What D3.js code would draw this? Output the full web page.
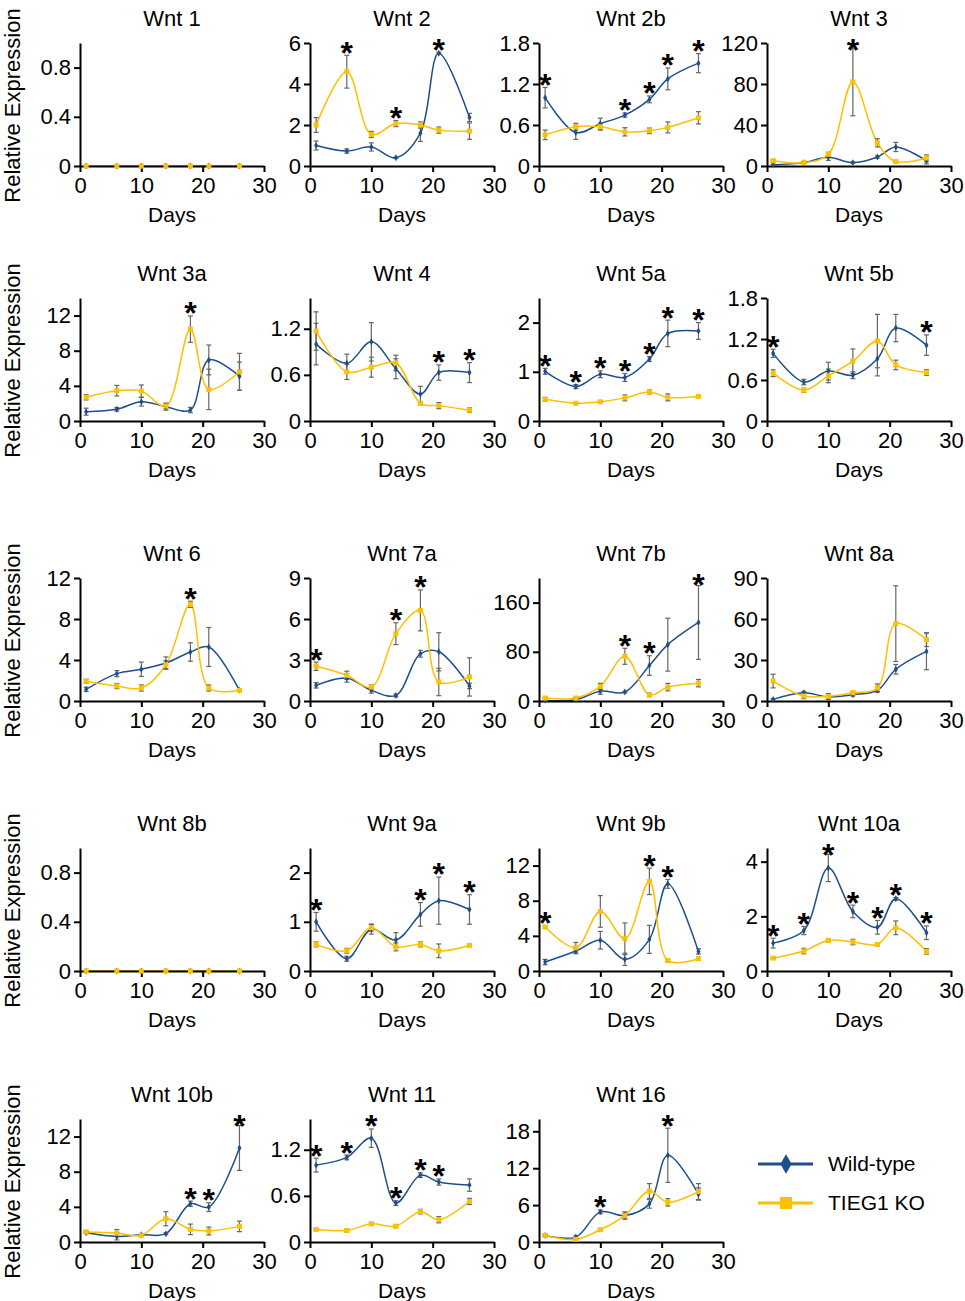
<!DOCTYPE html>
<html>
<head>
<meta charset="utf-8">
<script src="https://cdn.jsdelivr.net/npm/d3@7"></script>
<style>
  body { margin: 0; background: #fff; }
  svg { font-family: "Liberation Sans", Arial, sans-serif; }
</style>
</head>
<body>
<svg id="chart" width="965" height="1301"></svg>
<script>
// sampling days, same for every gene
var days = [1, 6, 10, 14, 18, 21, 26];

var genes = ["Wnt 1", "Wnt 2", "Wnt 2b", "Wnt 3",
             "Wnt 3a", "Wnt 4", "Wnt 5a", "Wnt 5b",
             "Wnt 6", "Wnt 7a", "Wnt 7b", "Wnt 8a",
             "Wnt 8b", "Wnt 9a", "Wnt 9b", "Wnt 10a",
             "Wnt 10b", "Wnt 11", "Wnt 16"];

var yMax = [1, 6, 1.8, 120, 14, 1.6, 2.5, 1.8, 12, 9, 200, 90, 1, 2.5, 14, 4.5, 14, 1.6, 20];

var yTicks = [
  [0, 0.4, 0.8], [0, 2, 4, 6], [0, 0.6, 1.2, 1.8], [0, 40, 80, 120],
  [0, 4, 8, 12], [0, 0.6, 1.2], [0, 1, 2], [0, 0.6, 1.2, 1.8],
  [0, 4, 8, 12], [0, 3, 6, 9], [0, 80, 160], [0, 30, 60, 90],
  [0, 0.4, 0.8], [0, 1, 2], [0, 4, 8, 12], [0, 2, 4],
  [0, 4, 8, 12], [0, 0.6, 1.2], [0, 6, 12, 18]
];

// Wild-type mean / error
var wtMean = [
  [0, 0, 0, 0, 0, 0, 0],
  [1.0, 0.73, 0.93, 0.4, 1.6, 5.5, 2.37],
  [1.0, 0.49, 0.62, 0.745, 0.975, 1.275, 1.505],
  [1.3, 3.3, 8.5, 3.3, 8.8, 18.6, 5],
  [1.06, 1.33, 2.2, 1.63, 1.25, 6.95, 5.1],
  [1.0, 0.75, 1.03, 0.68, 0.35, 0.63, 0.63],
  [1.01, 0.7, 0.95, 0.885, 1.26, 1.78, 1.83],
  [0.99, 0.57, 0.73, 0.67, 0.91, 1.36, 1.11],
  [1.14, 2.67, 3.1, 3.7, 4.78, 5.27, 1.04],
  [1.15, 1.68, 0.78, 0.41, 3.46, 3.6, 1.1],
  [1, 2, 16, 14.5, 57.6, 91.6, 127.7],
  [1.2, 6, 3, 4.6, 7.8, 23.2, 36.3],
  [0, 0, 0, 0, 0, 0, 0],
  [1.0, 0.25, 0.85, 0.63, 1.15, 1.43, 1.25],
  [1.02, 2.27, 3.5, 1.33, 3.6, 9.92, 2.23],
  [1.02, 1.48, 3.77, 2.18, 1.6, 2.64, 1.4],
  [1.06, 0.64, 0.83, 0.95, 4.35, 3.97, 10.7],
  [1.0, 1.1, 1.35, 0.506, 0.87, 0.78, 0.74],
  [1.07, 0.8, 4.9, 4.3, 6.2, 14.1, 7.8]
];
var wtErr = [
  [0, 0, 0, 0, 0, 0, 0],
  [0.22, 0.1, 0.2, 0.03, 0.4, 0.05, 0.2],
  [0.15, 0.1, 0.08, 0.03, 0.05, 0.16, 0.14],
  [0.5, 0.5, 3, 0.5, 1, 4.5, 3],
  [0.4, 0.2, 0.5, 0.4, 0.3, 1.7, 1.6],
  [0.27, 0.12, 0.25, 0.13, 0.1, 0.1, 0.13],
  [0.06, 0.04, 0.07, 0.08, 0.05, 0.27, 0.17],
  [0.06, 0.04, 0.13, 0.05, 0.25, 0.2, 0.15],
  [0.2, 0.3, 0.7, 0.6, 0.9, 1.9, 0.1],
  [0.2, 0.3, 0.2, 0.1, 0.25, 1.4, 0.2],
  [0.5, 0.5, 5, 1, 16, 43, 60],
  [0.5, 1, 2, 1, 1, 3.5, 13.4],
  [0, 0, 0, 0, 0, 0, 0],
  [0.19, 0.05, 0.1, 0.15, 0.24, 0.48, 0.3],
  [0.3, 0.3, 1.0, 0.7, 1.6, 0.5, 0.3],
  [0.18, 0.15, 0.5, 0.23, 0.25, 0.05, 0.25],
  [0.1, 0.4, 0.1, 0.1, 0.3, 0.5, 2.55],
  [0.09, 0.03, 0.12, 0.03, 0.03, 0.04, 0.08],
  [0.2, 0.2, 0.3, 0.6, 0.7, 4.4, 1]
];

// TIEG1 KO mean / error
var koMean = [
  [0, 0, 0, 0, 0, 0, 0],
  [2.0, 4.6, 1.54, 2.07, 2.0, 1.75, 1.7],
  [0.456, 0.575, 0.575, 0.5, 0.515, 0.565, 0.705],
  [5.2, 3.3, 11.4, 82, 22.6, 4.3, 7.8],
  [2.7, 3.45, 3.4, 1.7, 10.45, 3.6, 5.6],
  [1.17, 0.64, 0.7, 0.755, 0.23, 0.2, 0.14],
  [0.44, 0.36, 0.39, 0.47, 0.59, 0.48, 0.5],
  [0.7, 0.45, 0.66, 0.875, 1.17, 0.82, 0.71],
  [1.92, 1.46, 1.27, 3.54, 9.43, 1.27, 1.04],
  [2.54, 1.88, 1.02, 4.93, 6.63, 1.39, 1.76],
  [5, 4.8, 23.7, 72.7, 10, 22.6, 29],
  [14.6, 3.7, 3.4, 6.1, 9.5, 56.6, 44.9],
  [0, 0, 0, 0, 0, 0, 0],
  [0.54, 0.41, 0.88, 0.49, 0.54, 0.41, 0.52],
  [5.0, 2.65, 6.78, 3.67, 10.2, 1.2, 1.4],
  [0.47, 0.73, 1.12, 1.06, 0.97, 1.58, 0.72],
  [1.14, 1.02, 0.76, 2.65, 1.44, 1.25, 1.78],
  [0.163, 0.15, 0.236, 0.206, 0.395, 0.29, 0.528],
  [1.07, 0.43, 2.0, 4.3, 8.3, 6.45, 8.2]
];
var koErr = [
  [0, 0, 0, 0, 0, 0, 0],
  [0.36, 0.8, 0.15, 0.15, 0.15, 0.15, 0.4],
  [0.07, 0.05, 0.05, 0.06, 0.04, 0.08, 0.09],
  [1, 0.5, 2, 33, 4, 0.5, 3],
  [0.3, 0.6, 0.7, 0.3, 1.5, 2.3, 2.1],
  [0.25, 0.1, 0.13, 0.1, 0.02, 0.04, 0.03],
  [0.04, 0.01, 0.01, 0.06, 0.04, 0.07, 0.02],
  [0.05, 0.03, 0.1, 0.18, 0.39, 0.07, 0.04],
  [0.2, 0.25, 0.3, 0.4, 0.3, 0.3, 0.1],
  [0.3, 0.3, 0.15, 0.8, 1.5, 1.0, 1.4],
  [1, 1, 5, 13, 3, 6, 6],
  [5, 2, 2, 1, 3, 27.7, 5],
  [0, 0, 0, 0, 0, 0, 0],
  [0.05, 0.05, 0.07, 0.08, 0.05, 0.14, 0.02],
  [0.15, 0.6, 1.8, 1.8, 1.5, 0.15, 0.2],
  [0.02, 0.1, 0.05, 0.1, 0.07, 0.25, 0.1],
  [0.1, 0.4, 0.1, 0.8, 0.6, 0.45, 0.6],
  [0.01, 0.02, 0.02, 0.02, 0.03, 0.04, 0.04],
  [0.1, 0.1, 0.1, 0.4, 1.2, 0.6, 1.3]
];

// days marked with an asterisk
var sigDays = [
  [], [6, 14, 21], [1, 14, 18, 21, 26], [14],
  [18], [21, 26], [1, 6, 10, 14, 18, 21, 26], [1, 26],
  [18], [1, 14, 18], [14, 18, 26], [],
  [], [1, 18, 21, 26], [1, 18, 21], [1, 6, 10, 14, 18, 21, 26],
  [18, 21, 26], [1, 6, 10, 14, 18, 21], [10, 21]
];

var seriesNames = ["Wild-type", "TIEG1 KO"];

var blue = "#1f4e8c", yellow = "#ffc000", errColor = "#666";

// layout
var colX = [80, 310, 539, 767];
var rowBase = [166, 421, 701, 971, 1242];
var pw = 184, ph = 123;
var starSize = 32;

var svg = d3.select("#chart");

var x = d3.scaleLinear().domain([0, 30]).range([0, pw]);

genes.forEach(function(name, i) {
  var row = Math.floor(i / 4), col = i % 4;
  var g = svg.append("g")
    .attr("transform", `translate(${colX[col]},${rowBase[row] - ph})`);

  var y = d3.scaleLinear().domain([0, yMax[i]]).range([ph, 0]);

  var wt = days.map((d, k) => ({day: d, v: wtMean[i][k], e: wtErr[i][k]}));
  var ko = days.map((d, k) => ({day: d, v: koMean[i][k], e: koErr[i][k]}));

  var line = d3.line()
    .x(d => x(d.day))
    .y(d => y(d.v))
    .curve(d3.curveCatmullRom.alpha(0.5));

  g.append("path").datum(wt)
    .attr("fill", "none").attr("stroke", blue).attr("stroke-width", 1.5)
    .attr("d", line);
  g.append("path").datum(ko)
    .attr("fill", "none").attr("stroke", yellow).attr("stroke-width", 1.5)
    .attr("d", line);

  // axes
  var yAxis = d3.axisLeft(y).tickValues(yTicks[i]).tickFormat(d => String(d))
    .tickSize(6).tickSizeOuter(0).tickPadding(3);
  var xAxis = d3.axisBottom(x).tickValues([0, 10, 20, 30])
    .tickSize(6).tickSizeOuter(0).tickPadding(3);

  var ya = g.append("g").call(yAxis);
  var xa = g.append("g").attr("transform", `translate(0,${ph})`).call(xAxis);
  [ya, xa].forEach(a => {
    a.selectAll("path, line").attr("stroke", "#000").attr("stroke-width", 2);
    a.selectAll("text").attr("font-size", 22).attr("fill", "#000")
      .attr("font-family", "Liberation Sans, Arial, sans-serif");
  });
  xa.selectAll("text").attr("dy", "0.8em");

  // error bars
  [wt, ko].forEach(function(s) {
    var eb = g.append("g").attr("stroke", errColor).attr("stroke-width", 1.2);
    s.filter(d => d.e > 0).forEach(function(d) {
      var cx = x(d.day), y1 = y(d.v + d.e), y2 = y(d.v - d.e);
      eb.append("line").attr("x1", cx).attr("x2", cx).attr("y1", y1).attr("y2", y2);
      eb.append("line").attr("x1", cx - 2.5).attr("x2", cx + 2.5).attr("y1", y1).attr("y2", y1);
      eb.append("line").attr("x1", cx - 2.5).attr("x2", cx + 2.5).attr("y1", y2).attr("y2", y2);
    });
  });

  // markers
  g.selectAll(".wt").data(wt).join("path").attr("class", "wt")
    .attr("d", d3.symbol(d3.symbolDiamond, 14))
    .attr("transform", d => `translate(${x(d.day)},${y(d.v)})`)
    .attr("fill", blue);
  g.selectAll(".ko").data(ko).join("rect").attr("class", "ko")
    .attr("x", d => x(d.day) - 2.5).attr("y", d => y(d.v) - 2.5)
    .attr("width", 5).attr("height", 5)
    .attr("fill", yellow);

  // significance stars, ~10px above the highest error bar, not above the axis top
  sigDays[i].forEach(function(day) {
    var k = days.indexOf(day);
    var top = Math.max(wtMean[i][k] + wtErr[i][k], koMean[i][k] + koErr[i][k]);
    var cy = Math.max(y(top) - 10, 0);
    g.append("text")
      .attr("x", x(day)).attr("y", cy + starSize * 0.575)
      .attr("text-anchor", "middle")
      .attr("font-size", starSize).attr("font-weight", "bold")
      .text("*");
  });

  // title
  g.append("text")
    .attr("x", pw / 2).attr("y", -17)
    .attr("text-anchor", "middle").attr("font-size", 22)
    .text(name);

  // x label
  g.append("text")
    .attr("x", pw / 2).attr("y", ph + 56)
    .attr("text-anchor", "middle").attr("font-size", 21)
    .text("Days");

  // y label on first column
  if (col === 0) {
    g.append("text")
      .attr("transform", `translate(${-60},${ph / 2 + 1}) rotate(-90)`)
      .attr("text-anchor", "middle").attr("font-size", 22)
      .text("Relative Expression");
  }
});

// legend
var legend = svg.append("g").attr("transform", "translate(758,1164)");
seriesNames.forEach(function(s, k) {
  var gy = k * 39;
  var c = k === 0 ? blue : yellow;
  legend.append("line").attr("x1", 0).attr("x2", 55).attr("y1", gy).attr("y2", gy)
    .attr("stroke", c).attr("stroke-width", 3);
  if (k === 0) {
    legend.append("path").attr("d", d3.symbol(d3.symbolDiamond, 110))
      .attr("transform", `translate(28,${gy})`).attr("fill", c);
  } else {
    legend.append("rect").attr("x", 22).attr("y", gy - 6).attr("width", 12).attr("height", 12)
      .attr("fill", c);
  }
  legend.append("text").attr("x", 70).attr("y", gy).attr("dy", "0.35em")
    .attr("font-size", 21).text(s);
});
</script>
</body>
</html>
